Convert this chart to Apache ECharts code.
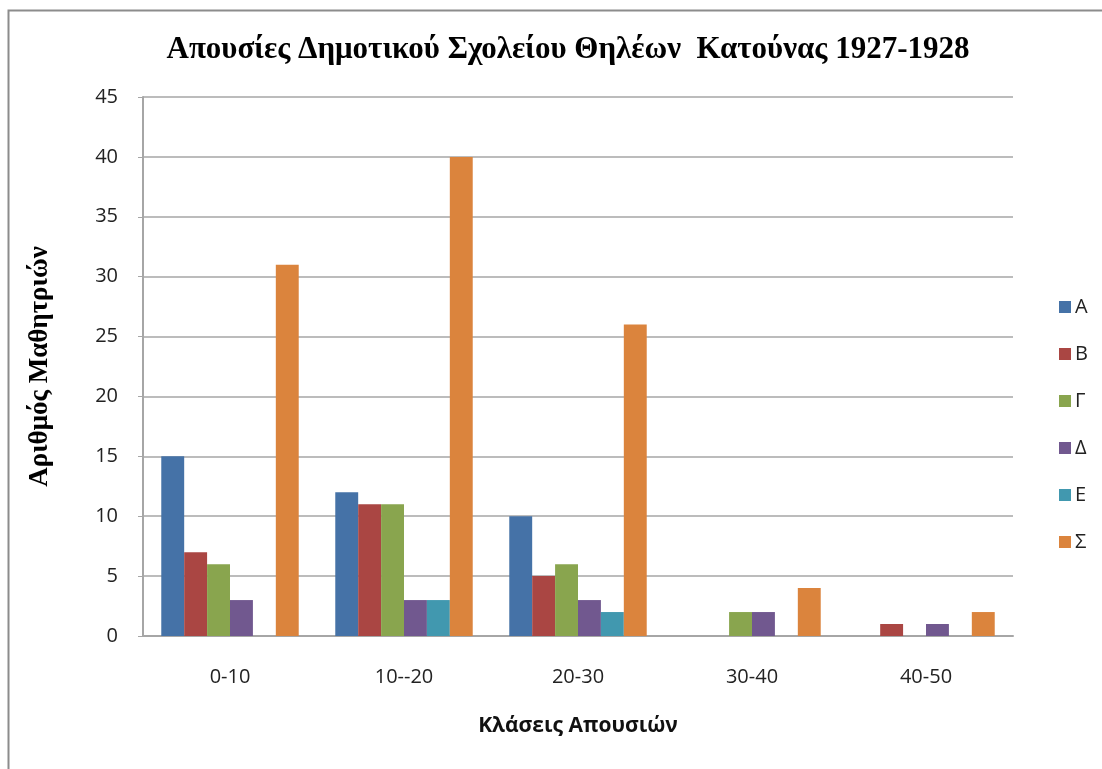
<!DOCTYPE html>
<html>
<head>
<meta charset="utf-8">
<script src="https://cdn.jsdelivr.net/npm/echarts@6/dist/echarts.min.js"></script>
<style>
  html, body { margin: 0; padding: 0; background: #fff; }
  #chart { width: 1102px; height: 769px; }
</style>
</head>
<body>
<div id="chart"></div>
<script>
const categories = ['0-10', '10--20', '20-30', '30-40', '40-50']
const seriesNames = ['Α', 'Β', 'Γ', 'Δ', 'Ε', 'Σ']
const valuesA = [15, 12, 10, 0, 0]
const valuesB = [7, 11, 5, 0, 1]
const valuesG = [6, 11, 6, 2, 0]
const valuesD = [3, 3, 3, 2, 1]
const valuesE = [0, 3, 2, 0, 0]
const valuesS = [31, 40, 26, 4, 2]
const yTicks = [0, 45, 5] // min, max, interval

const colors = ['#4572A7', '#AA4643', '#89A54E', '#71588F', '#4198AF', '#DB843D']
const allValues = [valuesA, valuesB, valuesG, valuesD, valuesE, valuesS]

const chart = echarts.init(document.getElementById('chart'))
chart.setOption({
  animation: false,
  color: colors,
  title: {
    text: 'Απουσίες Δημοτικού Σχολείου Θηλέων  Κατούνας 1927-1928',
    left: 563,
    textAlign: 'center',
    top: 29,
    textStyle: {
      fontFamily: 'Liberation Serif',
      fontWeight: 'bold',
      fontSize: 31,
      color: '#000'
    }
  },
  graphic: [{
    type: 'rect',
    shape: { x: 8.5, y: 10.5, width: 1200, height: 900 },
    style: { fill: 'none', stroke: '#8c8c8c', lineWidth: 2 },
    silent: true
  }],
  legend: {
    orient: 'vertical',
    left: 1054,
    top: 292,
    itemWidth: 12,
    itemHeight: 12,
    itemGap: 27,
    icon: 'rect',
    textStyle: { fontFamily: 'Open Sans', fontSize: 20, lineHeight: 20, color: '#222', padding: [0, 0, 0, -1] },
    data: seriesNames
  },
  grid: {
    left: 143,
    right: 89,
    top: 97,
    bottom: 133
  },
  xAxis: {
    type: 'category',
    data: categories,
    name: 'Κλάσεις Απουσιών',
    nameLocation: 'middle',
    nameGap: 80,
    nameTextStyle: { fontFamily: 'Open Sans', fontWeight: 'bold', fontSize: 21, color: '#111' },
    axisLine: { lineStyle: { color: '#a6a6a6', width: 2 } },
    axisTick: { show: false },
    axisLabel: { margin: 31, fontFamily: 'Open Sans', fontSize: 20, color: '#222' }
  },
  yAxis: {
    type: 'value',
    min: yTicks[0],
    max: yTicks[1],
    interval: yTicks[2],
    name: 'Αριθμός Μαθητριών',
    nameLocation: 'middle',
    nameGap: 89,
    nameTextStyle: { fontFamily: 'Liberation Serif', fontWeight: 'bold', fontSize: 27, color: '#000' },
    axisLine: { show: true, lineStyle: { color: '#a6a6a6', width: 2 } },
    axisTick: { show: true, length: 5, lineStyle: { color: '#a6a6a6', width: 1 } },
    axisLabel: { margin: 25, fontFamily: 'Open Sans', fontSize: 20, color: '#222' },
    splitLine: { lineStyle: { color: '#a6a6a6', width: 1.5 } }
  },
  series: seriesNames.map((name, i) => ({
    name: name,
    type: 'bar',
    data: allValues[i],
    barGap: '0%',
    barCategoryGap: '21%',
    itemStyle: { color: colors[i] }
  }))
})
</script>
</body>
</html>
